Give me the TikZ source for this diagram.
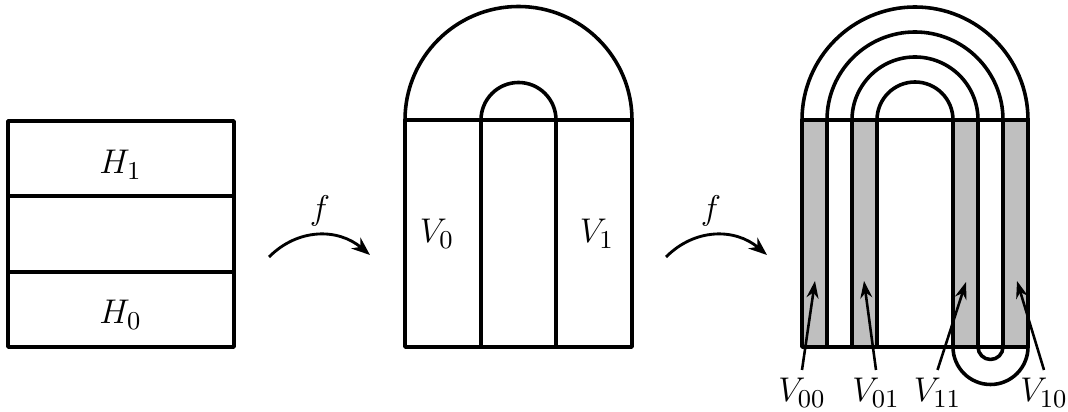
\documentclass[tikz,border=0pt]{standalone}
\usetikzlibrary{arrows.meta}
\definecolor{stripgray}{gray}{0.75}
\begin{document}
\begin{tikzpicture}[x=0.35pt,y=0.35pt,
  font=\fontsize{13.2}{16}\selectfont,
  edge/.style={line width=1.25pt, line join=round},
  strip/.style={fill=stripgray},
  lab/.style={anchor=base, inner sep=0pt},
  vlab/.style={anchor=base, inner sep=0pt, outer sep=3pt},
  ptr/.style={line width=0.9pt, -{Stealth[length=6pt,width=4.2pt]}},
  fmap/.style={line width=1pt, -{Stealth[length=6.5pt,width=5pt]}}]
\useasboundingbox (0,0) rectangle (1068,412);

% ---- left square
\draw[edge] (8,65) rectangle (234,291);
\draw[edge] (8,216) -- (234,216);
\draw[edge] (8,140) -- (234,140);
\node[lab] (h1) at (120.5,238) {$H_1$};
\node[lab] (h0) at (120.5,88) {$H_0$};

% ---- first map
\coordinate (f1s) at (269,155);
\coordinate (f1e) at (370,157);
\draw[fmap] (f1s) .. controls (298,184) and (338,184) .. (f1e);
\node[lab] (f1) at (320,192) {$f$};

% ---- middle horseshoe
\draw[edge] (405,292) arc[start angle=180,end angle=0,radius=113.5] -- (632,65) -- (405,65) -- cycle;
\draw[edge] (405,292) -- (632,292);
\draw[edge] (481,65) -- (481,292) arc[start angle=180,end angle=0,radius=37.5] -- (556,65);
\node[lab] (v0) at (437,169) {$V_0$};
\node[lab] (v1) at (597,169) {$V_1$};

% ---- second map
\coordinate (f2s) at (666,155);
\coordinate (f2e) at (767,157);
\draw[fmap] (f2s) .. controls (695,184) and (735,184) .. (f2e);
\node[lab] (f2) at (711,192) {$f$};

% ---- right figure
\fill[strip] (802,65) rectangle (827,292);
\fill[strip] (852,65) rectangle (877,292);
\fill[strip] (953,65) rectangle (978,292);
\fill[strip] (1003,65) rectangle (1028,292);
\draw[edge] (802,65) rectangle (1028,292);
\draw[edge] (802,292) arc[start angle=180,end angle=0,radius=113];
\draw[edge] (827,65) -- (827,292) arc[start angle=180,end angle=0,radius=88] -- (1003,65)
  arc[start angle=0,end angle=-180,radius=12.5] -- (978,292)
  arc[start angle=0,end angle=180,radius=63] -- (852,65);
\draw[edge] (877,65) -- (877,292) arc[start angle=180,end angle=0,radius=38] -- (953,65)
  arc[start angle=180,end angle=360,radius=37.5];

\node[vlab] (v00) at (802,10) {$V_{00}$};
\node[vlab] (v01) at (876,10) {$V_{01}$};
\node[vlab] (v11) at (937.5,10) {$V_{11}$};
\node[vlab] (v10) at (1044,10) {$V_{10}$};
\coordinate (p00) at (815,131);
\coordinate (p01) at (864,131);
\coordinate (p11) at (966,130);
\coordinate (p10) at (1017,131);
\draw[ptr] (v00.north) -- (p00);
\draw[ptr] (v01.north) -- (p01);
\draw[ptr] (v11.north) -- (p11);
\draw[ptr] (v10.north) -- (p10);
\end{tikzpicture}
\end{document}
